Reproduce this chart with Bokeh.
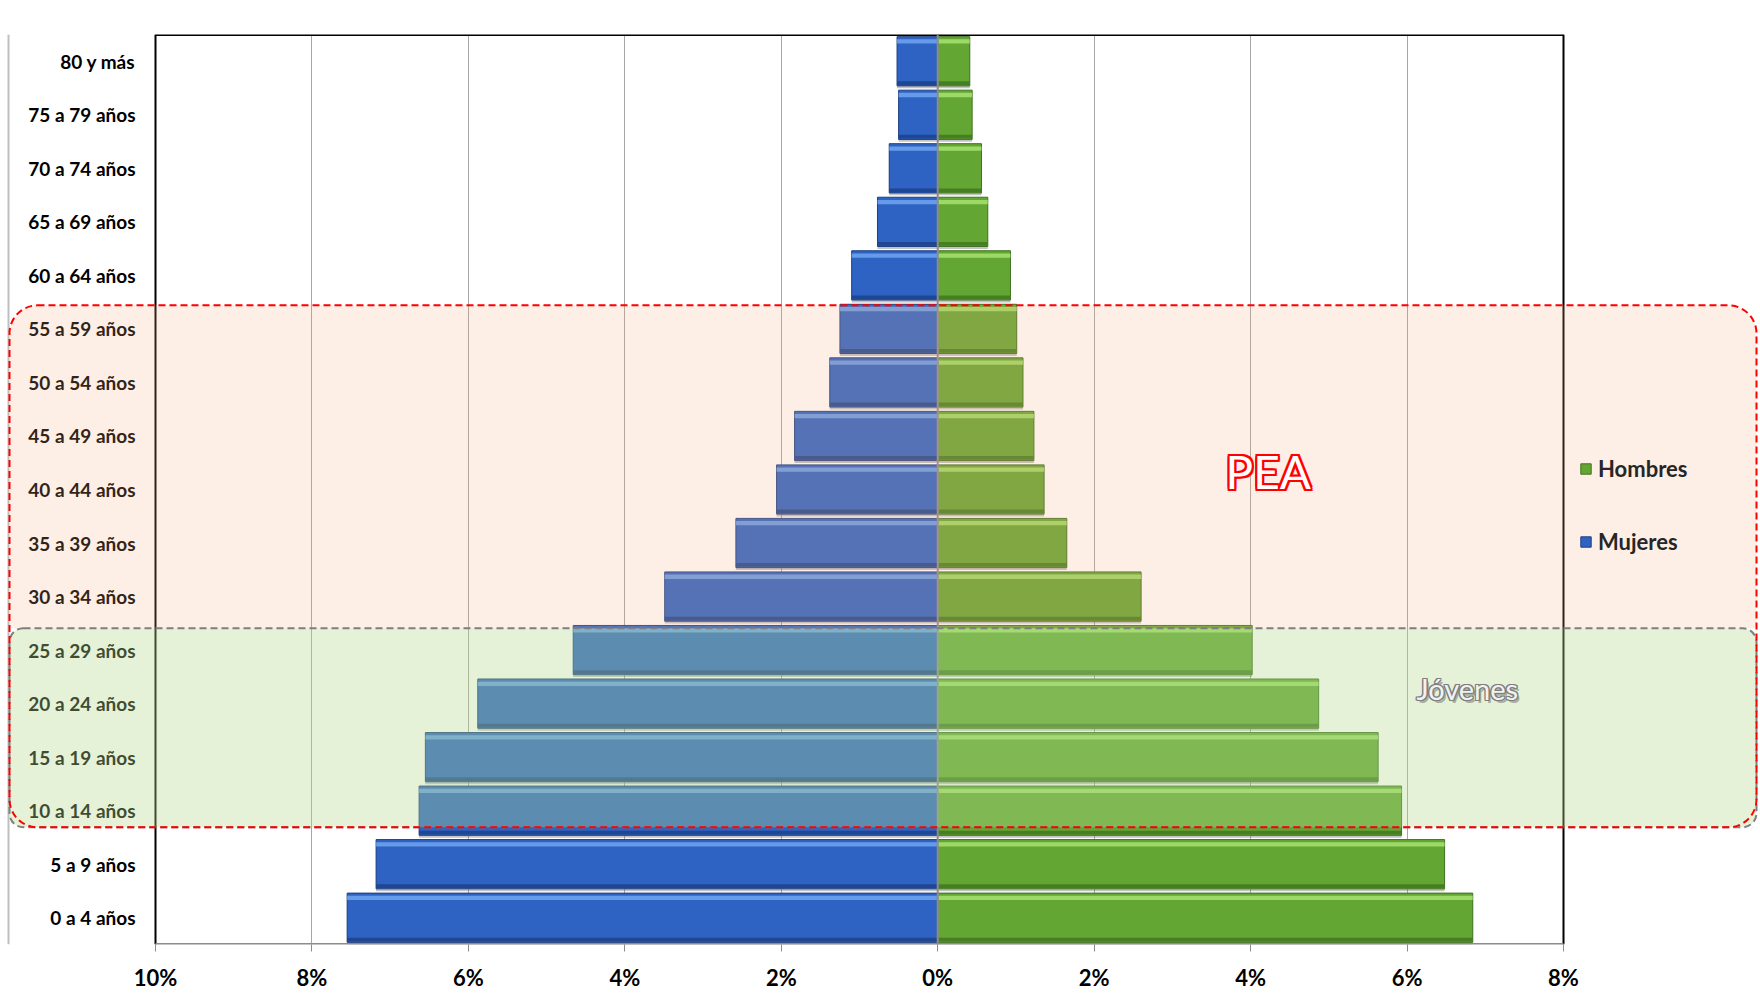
from bokeh.plotting import figure
from bokeh.models import (ColumnDataSource, FactorRange, Range1d, FixedTicker, Legend,
                          LegendItem, BoxAnnotation, Label, Span)
from bokeh.transform import dodge
from bokeh.core.properties import value
from bokeh.embed import file_html
from bokeh.resources import INLINE

# ---------------- data ----------------
ages = ["0 a 4 años", "5 a 9 años", "10 a 14 años", "15 a 19 años", "20 a 24 años",
        "25 a 29 años", "30 a 34 años", "35 a 39 años", "40 a 44 años", "45 a 49 años",
        "50 a 54 años", "55 a 59 años", "60 a 64 años", "65 a 69 años", "70 a 74 años",
        "75 a 79 años", "80 y más"]
mujeres = [7.55, 7.18, 6.63, 6.55, 5.88, 4.66, 3.49, 2.58, 2.06, 1.83, 1.38, 1.25,
           1.10, 0.77, 0.62, 0.50, 0.52]
hombres = [6.84, 6.48, 5.93, 5.63, 4.87, 4.02, 2.60, 1.65, 1.36, 1.23, 1.09, 1.01,
           0.93, 0.64, 0.56, 0.44, 0.41]
tick_vals = [-10, -8, -6, -4, -2, 0, 2, 4, 6, 8]
tick_labels = ["10%", "8%", "6%", "4%", "2%", "0%", "2%", "4%", "6%", "8%"]
series_names = ["Hombres", "Mujeres"]
pea_span = ("10 a 14 años", "55 a 59 años")
jov_span = ("10 a 14 años", "25 a 29 años")

# ---------------- layout ----------------
FONT = "Lato"
W, H = 1760, 1000
PLOT_L, PLOT_R, PLOT_T, PLOT_B = 155, 1563, 34, 944   # plot-area edges in px
XMIN, XMAX = tick_vals[0], tick_vals[-1]
k = (XMAX - XMIN) / (PLOT_R - PLOT_L)                  # data units per px
x_start = XMIN - PLOT_L * k
x_end = XMAX + (W - PLOT_R) * k
NROW = len(ages)

src = ColumnDataSource(dict(age=ages, muj=[-v for v in mujeres], hom=hombres,
                            lx=[XMIN] * NROW))

p = figure(width=W, height=H, y_range=FactorRange(factors=ages),
           x_range=Range1d(x_start, x_end),
           output_backend="svg", toolbar_location=None,
           min_border_left=0, min_border_right=0, min_border_top=PLOT_T,
           min_border_bottom=H - PLOT_B)
p.background_fill_color = "white"
p.border_fill_color = "white"
p.outline_line_color = None

yr = p.y_range
BH = 0.92

# faint chart-area border on the left
p.add_layout(Span(location=8, location_units="screen", dimension="height",
                  line_color="#BFBFBF", line_width=2))

# shadows
for col in ("muj", "hom"):
    p.hbar(y=dodge("age", -0.045, range=yr), left=col, right=0, height=BH, source=src,
           fill_color="#7A7A7A", fill_alpha=0.45, line_color=None)
# blue (Mujeres)
rb = p.hbar(y="age", left="muj", right=0, height=BH, source=src,
            fill_color="#2F63C3", line_color="#1E3F82", line_width=1)
p.hbar(y=dodge("age", 0.37, range=yr), left="muj", right=0, height=0.08, source=src,
       fill_color="#7AAEF5", fill_alpha=0.75, line_color=None)
p.hbar(y=dodge("age", -0.41, range=yr), left="muj", right=0, height=0.07, source=src,
       fill_color="#1F4690", line_color=None)
# green (Hombres)
rg = p.hbar(y="age", left=0, right="hom", height=BH, source=src,
            fill_color="#64A633", line_color="#3F7320", line_width=1)
p.hbar(y=dodge("age", 0.37, range=yr), left=0, right="hom", height=0.08, source=src,
       fill_color="#B0EA78", fill_alpha=0.75, line_color=None)
p.hbar(y=dodge("age", -0.41, range=yr), left=0, right="hom", height=0.07, source=src,
       fill_color="#467F22", line_color=None)

# category labels (left of the plot area)
p.text(x="lx", y="age", text="age", source=src, x_offset=-20,
       text_align="right", text_baseline="middle", text_font=value(FONT),
       text_font_style="bold", text_font_size="19px", text_color="black")

# plot-area border: black top/left/right, grey bottom axis line
p.segment(x0=[XMIN, XMIN, XMAX], y0=[NROW, 0, 0], x1=[XMAX, XMIN, XMAX], y1=[NROW, NROW, NROW],
          line_color="black", line_width=[3, 2, 2])
p.segment(x0=[XMIN], y0=[0], x1=[XMAX], y1=[0], line_color="#8C8C8C", line_width=3)

p.add_layout(Span(location=0, dimension="height", line_color="#8C8C8C", line_width=2))

# axes
ticker = FixedTicker(ticks=tick_vals)
p.xaxis.ticker = ticker
p.xaxis.major_label_overrides = dict(zip(tick_vals, tick_labels))
p.xaxis.major_label_text_font = FONT
p.xaxis.major_label_text_font_style = "bold"
p.xaxis.major_label_text_font_size = "22px"
p.xaxis.major_label_text_color = "black"
p.xaxis.major_label_standoff = 12
p.xaxis.axis_line_color = None
p.xaxis.major_tick_line_color = "#8C8C8C"
p.xaxis.major_tick_line_width = 1
p.xaxis.major_tick_in = 0
p.xaxis.major_tick_out = 7
p.xaxis.minor_tick_line_color = None
p.xgrid.ticker = ticker
p.xgrid.grid_line_color = "#A6A6A6"
p.xgrid.grid_line_width = 1
p.ygrid.grid_line_color = None
p.yaxis.visible = False

# legend
legend = Legend(items=[LegendItem(label=series_names[0], renderers=[rg]),
                       LegendItem(label=series_names[1], renderers=[rb])],
                location=(1579, 389), orientation="vertical",
                label_text_font=FONT, label_text_font_style="bold",
                label_text_font_size="22px", label_text_color="#262626",
                glyph_width=13, glyph_height=13, spacing=46, padding=8, margin=0,
                label_standoff=6,
                background_fill_alpha=0, border_line_color=None)
p.add_layout(legend)

# highlighted regions
pea_lo = ages.index(pea_span[0]) + 0.19
pea_hi = ages.index(pea_span[1]) + 1 - 0.06
jov_lo = pea_lo
jov_hi = ages.index(jov_span[1]) + 1 - 0.09
BOX_L, BOX_R = 9, W - 4

p.add_layout(BoxAnnotation(left=BOX_L, right=BOX_R, left_units="screen", right_units="screen",
                           bottom=jov_hi, top=pea_hi, fill_color="#F4B183", fill_alpha=0.2,
                           line_color=None, border_radius=(28, 28, 0, 0)))
p.add_layout(BoxAnnotation(left=BOX_L, right=BOX_R, left_units="screen", right_units="screen",
                           bottom=jov_lo, top=jov_hi, fill_color="#B5DA8F", fill_alpha=0.35,
                           line_color="#7F7F7F", line_alpha=1, line_width=2, line_dash="7 4",
                           border_radius=14))
p.add_layout(BoxAnnotation(left=BOX_L, right=BOX_R, left_units="screen", right_units="screen",
                           bottom=pea_lo, top=pea_hi, fill_alpha=0,
                           line_color="#FF0000", line_alpha=1, line_width=2, line_dash="7 4",
                           border_radius=28))

# region titles (outlined text)
def outlined(x, y, text, size, fill, stroke, d, bold, shadow):
    style = "bold" if bold else "normal"
    p.add_layout(Label(x=x, y=y, text=text, text_font=FONT, text_font_style=style,
                       text_font_size=size, text_color=shadow, text_alpha=0.45,
                       x_offset=2.5, y_offset=-2.5,
                       text_align="left", text_baseline="middle"))
    for dx, dy in [(-d, 0), (d, 0), (0, -d), (0, d), (-d, -d), (d, d), (-d, d), (d, -d)]:
        p.add_layout(Label(x=x, y=y, text=text, text_font=FONT, text_font_style=style,
                           text_font_size=size, text_color=stroke, x_offset=dx, y_offset=dy,
                           text_align="left", text_baseline="middle"))
    p.add_layout(Label(x=x, y=y, text=text, text_font=FONT, text_font_style=style,
                       text_font_size=size, text_color=fill,
                       text_align="left", text_baseline="middle"))

outlined(3.68, 8.84, "PEA", "46px", "white", "#FF0000", 2, False, "#7F7F7F")
outlined(6.12, 4.78, "Jóvenes", "29px", "#F2F2F2", "#7F7F7F", 1.2, False, "#595959")

open("out.html", "w").write(file_html(p, INLINE))
